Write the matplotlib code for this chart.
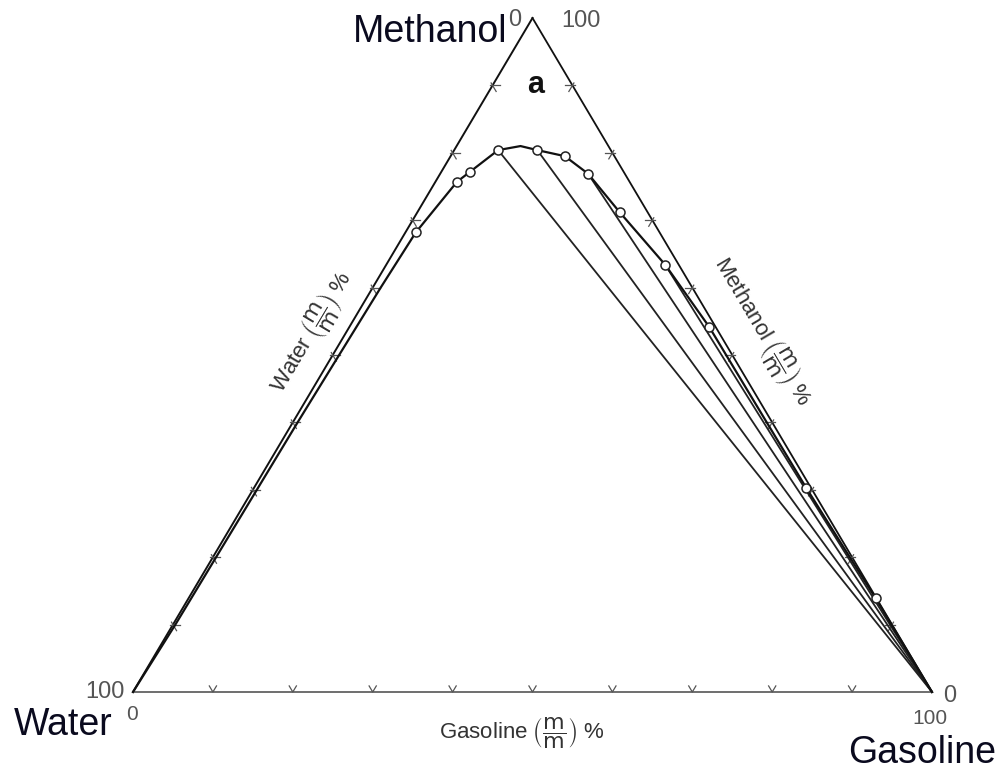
import numpy as np
import matplotlib.pyplot as plt

plt.rcParams['font.family'] = ['Liberation Sans', 'DejaVu Sans']
plt.rcParams['mathtext.fontset'] = 'dejavusans'

# binodal curve, composition in % (m/m): methanol and gasoline (rest is water)
curve_methanol = [0, 10, 20, 30, 40, 50, 60, 68.2, 75.7, 77.2, 80.4, 81.0, 80.4, 79.5, 76.9, 71.2, 63.4, 54.2, 30.3, 13.9, 0]
curve_gasoline = [0, 0.3, 0.4, 0.5, 0.6, 0.8, 1.0, 1.3, 2.7, 3.6, 5.5, 8.0, 10.4, 14.3, 18.5, 25.3, 34.9, 45.0, 69.1, 86.0, 100]

# measured points (open circles)
point_methanol = [68.2, 75.7, 77.2, 80.4, 80.4, 79.5, 76.9, 71.2, 63.4, 54.2, 30.3, 13.9]
point_gasoline = [1.3, 2.7, 3.6, 5.5, 10.4, 14.3, 18.5, 25.3, 34.9, 45.0, 69.1, 86.0]

# tie lines
tie_start_methanol = [80.4, 80.4, 76.9, 63.4]
tie_start_gasoline = [5.5, 10.4, 18.5, 34.9]
tie_end_methanol = [0, 0, 0, 0]
tie_end_gasoline = [100, 100, 100, 100]

tick_values = [10, 20, 30, 40, 50, 60, 70, 80, 90]

H = np.sqrt(3) / 2


def tern(m, g):
    m = np.asarray(m, dtype=float) / 100
    g = np.asarray(g, dtype=float) / 100
    return g + m / 2, m * H


def fpos(px, py):
    return px / 1000, 1 - py / 770


fig = plt.figure(figsize=(10, 7.7), dpi=100)
ax = fig.add_axes([0, 0, 1, 1])
ax.set_xlim(-133 / 799, 867 / 799)
ax.set_ylim(-78 / 674 * H, 692 / 674 * H)
ax.axis('off')

# triangle frame (water, gasoline, methanol corners)
wx, wy = tern(0, 0)
gx, gy = tern(0, 100)
mx, my = tern(100, 0)
ax.plot([wx, mx], [wy, my], color='#111', lw=1.4)
ax.plot([mx, gx], [my, gy], color='#111', lw=1.3)
ax.plot([wx, gx], [wy, gy], color='#555', lw=1.2)

# ticks
L = 0.009
tk = dict(color='#555', lw=0.9)
for k in tick_values:
    x, y = tern(0, k)
    ax.plot([x - 0.5 * L, x, x + 0.5 * L], [y + H * L, y, y + H * L], **tk)
    x, y = tern(k, 0)
    ax.plot([x - 0.4 * L, x + L], [y, y], **tk)
    ax.plot([x - 0.2 * L, x + 0.5 * L], [y + 0.4 * H * L, y - H * L], **tk)
    x, y = tern(k, 100 - k)
    ax.plot([x + 0.4 * L, x - L], [y, y], **tk)
    ax.plot([x + 0.2 * L, x - 0.5 * L], [y + 0.4 * H * L, y - H * L], **tk)

# tie lines
for m0, g0, m1, g1 in zip(tie_start_methanol, tie_start_gasoline, tie_end_methanol, tie_end_gasoline):
    x0, y0 = tern(m0, g0)
    x1, y1 = tern(m1, g1)
    ax.plot([x0, x1], [y0, y1], color='#222', lw=1.3)

# binodal curve and points
cx, cy = tern(curve_methanol, curve_gasoline)
ax.plot(cx, cy, color='#111', lw=1.6)
px_, py_ = tern(point_methanol, point_gasoline)
ax.plot(px_, py_, 'o', ms=6.5, mfc='white', mec='#222', mew=1.1)

# corner labels
big = dict(fontsize=27, color='#0a0a1e')
fig.text(*fpos(507, 42), 'Methanol', ha='right', va='baseline', **big)
fig.text(*fpos(14, 735), 'Water', ha='left', va='baseline', **big)
fig.text(*fpos(848, 763), 'Gasoline', ha='left', va='baseline', **big)
fig.text(*fpos(536, 85), 'a', ha='center', va='center', fontsize=22, fontweight='bold', color='#111')

small = dict(fontsize=17, color='#555', ha='center', va='center')
fig.text(*fpos(515, 20), '0', **small)
fig.text(*fpos(581, 21), '100', **small)
fig.text(*fpos(105, 692), '100', **small)
fig.text(*fpos(132, 715), '0', fontsize=15, color='#555', ha='center', va='center')
fig.text(*fpos(950, 696), '0', **small)
fig.text(*fpos(930, 719), '100', fontsize=15, color='#555', ha='center', va='center')

# axis titles
frac = r'$\left(\dfrac{\mathrm{m}}{\mathrm{m}}\right)$'
lab = dict(fontsize=16, color='#333', ha='center', va='center', rotation_mode='anchor')
fig.text(*fpos(522, 733), 'Gasoline ' + frac + ' %', **lab)
fig.text(*fpos(312, 332), 'Water ' + frac + ' %', rotation=59.2, **lab)
fig.text(*fpos(762, 332), 'Methanol ' + frac + ' %', rotation=-59.4, **lab)

fig.savefig('out.png', dpi=100)
